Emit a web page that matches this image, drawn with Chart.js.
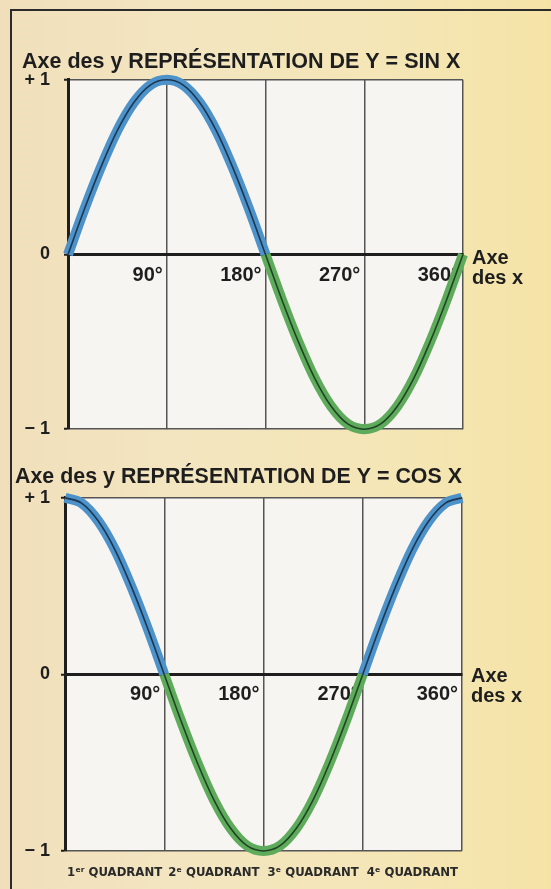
<!DOCTYPE html>
<html>
<head>
<meta charset="utf-8">
<script src="https://cdn.jsdelivr.net/npm/chart.js@4/dist/chart.umd.min.js"></script>
<style>
  html, body { margin: 0; padding: 0; }
  body {
    width: 551px; height: 889px; overflow: hidden; position: relative;
    background: linear-gradient(90deg, #f1dfbb 0%, #f3e5c0 30%, #f4e6b6 70%, #f5e3a6 100%);
  }
  #frame {
    position: absolute; left: 10px; top: 9px; width: 600px; height: 900px;
    border-left: 2px solid #2b2b2b; border-top: 2px solid #2b2b2b;
  }
  canvas { position: absolute; left: 0; }
  #sinChart { top: 0; }
  #cosChart { top: 440px; }
</style>
</head>
<body>
<div id="frame"></div>
<canvas id="sinChart" width="551" height="454"></canvas>
<canvas id="cosChart" width="551" height="449"></canvas>
<script>
// angles in degrees
const degrees = [0, 15, 30, 45, 60, 75, 90, 105, 120, 135, 150, 165, 180,
  195, 210, 225, 240, 255, 270, 285, 300, 315, 330, 345, 360];
const sinValues = [0, 0.26, 0.5, 0.71, 0.87, 0.97, 1, 0.97, 0.87, 0.71, 0.5, 0.26, 0,
  -0.26, -0.5, -0.71, -0.87, -0.97, -1, -0.97, -0.87, -0.71, -0.5, -0.26, 0];
const cosValues = [1, 0.97, 0.87, 0.71, 0.5, 0.26, 0, -0.26, -0.5, -0.71, -0.87, -0.97, -1,
  -0.97, -0.87, -0.71, -0.5, -0.26, 0, 0.26, 0.5, 0.71, 0.87, 0.97, 1];

const xTicks = [0, 90, 180, 270, 360];
const xTickLabels = ["", "90°", "180°", "270°", "360°"];
const yTicks = [-1, 0, 1];
const yTickLabels = ["− 1", "0", "+ 1"];
const quadrantCenters = [45, 135, 225, 315];
const quadrantLabels = ["1ᵉʳ QUADRANT", "2ᵉ QUADRANT", "3ᵉ QUADRANT", "4ᵉ QUADRANT"];
const titles = ["Axe des y REPRÉSENTATION DE Y = SIN X", "Axe des y REPRÉSENTATION DE Y = COS X"];

const FONT = "'Liberation Sans', Arial, sans-serif";
const NARROW = "'Liberation Sans Narrow', 'DejaVu Sans Condensed', 'Liberation Sans', sans-serif";
const BLUE = "#4d92c8", GREEN = "#5fab5c";
const DARK_BLUE = "#1b3754", DARK_GREEN = "#1e4424";

// paints the white plot area and the "Axe / des x" label at the end of the x axis
const plotDecor = {
  id: "plotDecor",
  beforeDraw(chart) {
    const { ctx, chartArea: a } = chart;
    ctx.save();
    ctx.fillStyle = "#f7f5f1";
    ctx.fillRect(a.left, a.top, a.right - a.left, a.bottom - a.top);
    ctx.restore();
  },
  afterDraw(chart, args, opts) {
    const { ctx, chartArea: a } = chart;
    const y0 = chart.scales.y.getPixelForValue(0);
    ctx.save();
    ctx.fillStyle = "#1e1e1e";
    ctx.font = "bold 20px " + FONT;
    ctx.textAlign = "left";
    ctx.textBaseline = "alphabetic";
    ctx.fillText("Axe", a.right + 9, y0 + opts.dy);
    ctx.fillText("des x", a.right + 9, y0 + opts.dy + 20);
    ctx.restore();
  }
};

function makeChart(id, values, cfg) {
  const points = degrees.map((d, i) => ({ x: d, y: values[i] }));
  const signColor = (pos, neg) => ctx =>
    (ctx.p0.parsed.y + ctx.p1.parsed.y >= 0 ? pos : neg);

  const scales = {
    x: {
      type: "linear",
      min: 0, max: 360,
      position: { y: 0 },
      afterBuildTicks: s => { s.ticks = xTicks.map(v => ({ value: v })); },
      grid: { color: "#555", lineWidth: 1.5, drawTicks: false },
      border: { display: true, color: "#1e1e1e", width: 3 },
      ticks: {
        align: "end",
        labelOffset: -4,
        padding: cfg.xPad,
        color: "#1e1e1e",
        font: { family: FONT, size: 20, weight: "bold" },
        callback: (v, i) => xTickLabels[i]
      }
    },
    y: {
      type: "linear",
      min: -1, max: 1,
      afterBuildTicks: s => { s.ticks = yTicks.map(v => ({ value: v })); },
      afterFit: s => { s.width = cfg.yWidth; },
      grid: { color: "#555", lineWidth: 1.5, tickLength: 4, tickColor: "#1e1e1e", tickWidth: 2 },
      border: { display: true, color: "#1e1e1e", width: 3 },
      ticks: {
        padding: cfg.yPad,
        color: "#1e1e1e",
        font: { family: FONT, size: 18, weight: "bold" },
        callback: (v, i) => yTickLabels[i]
      }
    }
  };

  if (cfg.quadrants) {
    scales.q = {
      type: "linear",
      axis: "x",
      position: "bottom",
      min: 0, max: 360,
      afterBuildTicks: s => { s.ticks = quadrantCenters.map(v => ({ value: v })); },
      afterFit: s => { s.height = cfg.qHeight; },
      grid: { display: false },
      border: { display: false },
      ticks: {
        padding: 6,
        color: "#2a2a2a",
        font: { family: NARROW, size: 13, weight: "bold" },
        callback: (v, i) => quadrantLabels[i]
      }
    };
  }

  return new Chart(document.getElementById(id), {
    type: "line",
    data: {
      datasets: [
        {
          data: points,
          order: 1,
          borderWidth: 1.6,
          pointRadius: 0,
          cubicInterpolationMode: "monotone",
          clip: false,
          segment: { borderColor: signColor(DARK_BLUE, DARK_GREEN) }
        },
        {
          data: points,
          order: 2,
          borderWidth: 10,
          borderCapStyle: "butt",
          pointRadius: 0,
          cubicInterpolationMode: "monotone",
          clip: false,
          segment: { borderColor: signColor(BLUE, GREEN) }
        }
      ]
    },
    options: {
      responsive: false,
      animation: false,
      events: [],
      layout: { padding: cfg.padding },
      scales: scales,
      plugins: {
        legend: { display: false },
        tooltip: { enabled: false },
        title: {
          display: true,
          text: cfg.title,
          align: "start",
          color: "#1e1e1e",
          font: { family: FONT, size: 21.5, weight: "bold", lineHeight: 1.2 },
          padding: cfg.titlePad
        },
        plotDecor: { dy: cfg.axeDy }
      }
    },
    plugins: [plotDecor]
  });
}

makeChart("sinChart", sinValues, {
  title: titles[0],
  padding: { left: 22, right: 88, top: 0, bottom: 12 },
  titlePad: { top: 49, bottom: 5 },
  yWidth: 46, yPad: 14, xPad: 9, axeDy: 9
});

makeChart("cosChart", cosValues, {
  title: titles[1],
  padding: { left: 15, right: 89, top: 0, bottom: 0 },
  titlePad: { top: 24, bottom: 8 },
  yWidth: 50, yPad: 11, xPad: 8, axeDy: 8,
  quadrants: true, qHeight: 38
});
</script>
</body>
</html>
